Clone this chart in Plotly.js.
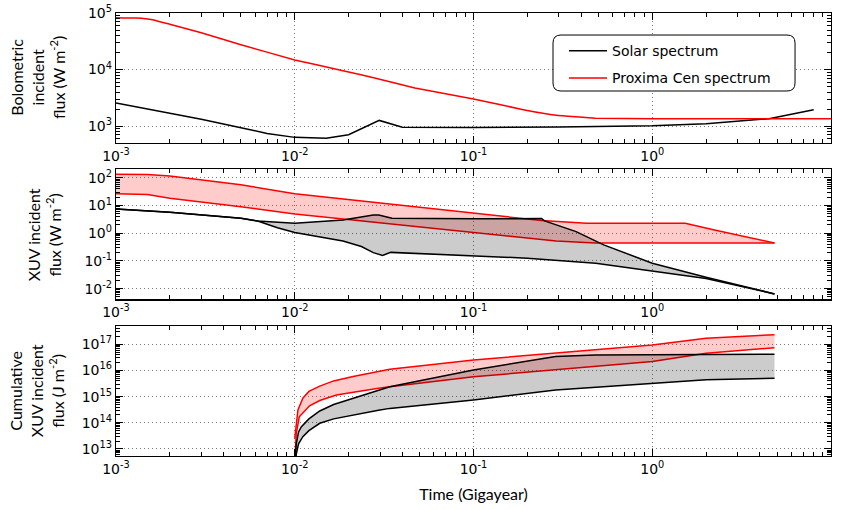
<!DOCTYPE html>
<html>
<head>
<meta charset="utf-8">
<script src="https://cdn.plot.ly/plotly-3.0.1.min.js"></script>
<style>html,body{margin:0;padding:0;background:#fff;}#chart{width:842px;height:510px;}</style>
</head>
<body>
<div id="chart"></div>
<script>
// ---------- Data (time in Gyr) ----------
// Panel 1: bolometric incident flux (W m^-2)
const bolSunT   = [0.001, 0.002, 0.003, 0.005, 0.007, 0.01, 0.015, 0.02, 0.0297, 0.04, 0.06, 0.1, 0.3, 1, 2, 4.5, 8];
const bolSunF   = [2570, 1700, 1320, 933, 741, 631, 610, 701, 1259, 955, 945, 946, 966, 1014, 1096, 1349, 1950];
const bolProxT  = [0.001, 0.0013, 0.0016, 0.002, 0.003, 0.005, 0.01, 0.0186, 0.028, 0.047, 0.1, 0.19, 0.29, 0.48, 1, 10];
const bolProxF  = [82600, 81300, 75900, 63100, 44700, 27500, 14800, 9550, 7080, 4730, 3020, 1950, 1550, 1380, 1350, 1350];

// Panel 2: XUV incident flux (W m^-2), upper and lower envelopes
const xuvProxUpT = [0.001, 0.0015, 0.002, 0.005, 0.01, 0.1, 0.24, 0.43, 1.53, 2.23, 4.83];
const xuvProxUpF = [135, 132, 117, 56.2, 26.9, 5.25, 2.88, 2.29, 2.29, 1.32, 0.447];
const xuvProxLoT = [0.001, 0.0015, 0.002, 0.005, 0.01, 0.03, 0.1, 0.29, 0.48, 4.83];
const xuvProxLoF = [26.9, 25.1, 18.4, 9.12, 5.01, 2.43, 1.06, 0.528, 0.447, 0.447];
const xuvSunUpT  = [0.001, 0.002, 0.005, 0.0062, 0.01, 0.0186, 0.0275, 0.0295, 0.035, 0.1, 0.24, 0.25, 0.375, 0.535, 1, 2, 4.83];
const xuvSunUpF  = [7.59, 5.75, 3.47, 2.75, 2.29, 3.02, 4.57, 4.57, 3.47, 3.31, 3.39, 2.79, 1.15, 0.380, 0.0832, 0.0257, 0.00646];
const xuvSunLoT  = [0.001, 0.002, 0.005, 0.0062, 0.008, 0.01, 0.0186, 0.0236, 0.0275, 0.031, 0.0344, 0.1, 0.2, 0.483, 1, 2, 4.83];
const xuvSunLoF  = [7.59, 5.75, 3.47, 2.75, 1.58, 1.07, 0.525, 0.331, 0.200, 0.158, 0.204, 0.151, 0.126, 0.0832, 0.0437, 0.0234, 0.00646];

// Panel 3: cumulative XUV incident flux (J m^-2)
const cumProxUpT = [0.01, 0.01042, 0.0111, 0.012, 0.0138, 0.0165, 0.0212, 0.0294, 0.034, 0.1, 0.288, 1, 2, 4.83];
const cumProxUpF = [2.57e13, 3.09e14, 8.71e14, 1.58e15, 2.51e15, 3.98e15, 5.89e15, 9.55e15, 1.12e16, 2.51e16, 4.57e16, 9.33e16, 1.70e17, 2.34e17];
const cumProxLoT = [0.01, 0.0102, 0.0106, 0.0121, 0.0138, 0.0171, 0.0294, 0.034, 0.1, 0.288, 1, 2, 4.83];
const cumProxLoF = [3.16e12, 3.98e13, 1.70e14, 4.47e14, 7.08e14, 1.15e15, 2.09e15, 2.40e15, 5.75e15, 1.05e16, 2.19e16, 4.57e16, 7.41e16];
const cumSunUpT  = [0.01, 0.0102, 0.0105, 0.0109, 0.012, 0.0138, 0.0165, 0.0212, 0.0294, 0.034, 0.1, 0.2, 0.288, 0.48, 1, 4.83];
const cumSunUpF  = [2.51e12, 1.58e13, 4.47e13, 7.08e13, 1.41e14, 2.82e14, 5.01e14, 8.71e14, 1.78e15, 2.40e15, 1.05e16, 2.24e16, 3.39e16, 3.89e16, 3.98e16, 4.17e16];
const cumSunLoT  = [0.01, 0.0102, 0.0105, 0.0111, 0.012, 0.0138, 0.0165, 0.0212, 0.0294, 0.034, 0.1, 0.288, 1, 2, 4.83];
const cumSunLoF  = [1e12, 6.31e12, 1.58e13, 2.95e13, 5.01e13, 9.55e13, 1.41e14, 2.00e14, 3.02e14, 3.55e14, 7.41e14, 1.78e15, 3.24e15, 4.37e15, 5.01e15];

// Tick labels
const xTickVals = [0.001, 0.01, 0.1, 1, 10];
const xTickText = ['10<sup>-3</sup>', '10<sup>-2</sup>', '10<sup>-1</sup>', '10<sup>0</sup>', '10<sup>1</sup>'];
const y1TickVals = [1e3, 1e4, 1e5];
const y1TickText = ['10<sup>3</sup>', '10<sup>4</sup>', '10<sup>5</sup>'];
const y2TickVals = [0.01, 0.1, 1, 10, 100];
const y2TickText = ['10<sup>-2</sup>', '10<sup>-1</sup>', '10<sup>0</sup>', '10<sup>1</sup>', '10<sup>2</sup>'];
const y3TickVals = [1e13, 1e14, 1e15, 1e16, 1e17];
const y3TickText = ['10<sup>13</sup>', '10<sup>14</sup>', '10<sup>15</sup>', '10<sup>16</sup>', '10<sup>17</sup>'];
const seriesNames = ['Solar spectrum', 'Proxima Cen spectrum'];

// ---------- Styling ----------
const RED = '#ff0000', BLACK = '#000000';
const PINK_FILL = 'rgba(255,0,0,0.2)', GREY_FILL = 'rgba(0,0,0,0.2)';
const LW = 1.5;

function minorVals(e0, e1) {
  const v = [];
  for (let e = e0; e < e1; e++) for (let m = 2; m <= 9; m++) v.push(m * Math.pow(10, e));
  return v;
}

function line(x, y, color, xa, ya, extra) {
  return Object.assign({
    type: 'scatter', mode: 'lines', x: x, y: y,
    line: {color: color, width: LW},
    xaxis: xa, yaxis: ya, showlegend: false, hoverinfo: 'skip'
  }, extra || {});
}

const traces = [
  // panel 1
  line(bolSunT, bolSunF, BLACK, 'x', 'y', {name: seriesNames[0], showlegend: true, legendgroup: 'a'}),
  line(bolProxT, bolProxF, RED, 'x', 'y', {name: seriesNames[1], showlegend: true, legendgroup: 'b',
       line: {color: RED, width: LW, shape: 'spline', smoothing: 0.3}}),
  // panel 2
  line(xuvProxLoT, xuvProxLoF, RED, 'x2', 'y2'),
  line(xuvProxUpT, xuvProxUpF, RED, 'x2', 'y2', {fill: 'tonexty', fillcolor: PINK_FILL}),
  line(xuvSunLoT, xuvSunLoF, BLACK, 'x2', 'y2'),
  line(xuvSunUpT, xuvSunUpF, BLACK, 'x2', 'y2', {fill: 'tonexty', fillcolor: GREY_FILL}),
  // panel 3
  line(cumProxLoT, cumProxLoF, RED, 'x3', 'y3'),
  line(cumProxUpT, cumProxUpF, RED, 'x3', 'y3', {fill: 'tonexty', fillcolor: PINK_FILL}),
  line(cumSunLoT, cumSunLoF, BLACK, 'x3', 'y3'),
  line(cumSunUpT, cumSunUpF, BLACK, 'x3', 'y3', {fill: 'tonexty', fillcolor: GREY_FILL})
];

const tickFont = {family: 'DejaVu Sans', size: 14, color: '#000'};
const GRID = '#7a7a7a', GRIDDASH = '1px,3px';

function minorSpec(vals) {
  return {tickmode: 'array', tickvals: vals, ticks: 'inside', ticklen: 4, tickcolor: '#000', tickwidth: 1, showgrid: false};
}
function xAxis(anchor) {
  return {
    type: 'log', range: [-3, 1], anchor: anchor,
    tickmode: 'array', tickvals: xTickVals, ticktext: xTickText,
    ticks: 'inside', ticklen: 7, tickcolor: '#000', tickwidth: 1,
    showline: true, linecolor: '#000', linewidth: 1.2, mirror: 'allticks',
    showgrid: true, gridcolor: GRID, griddash: GRIDDASH, gridwidth: 1,
    minor: minorSpec(minorVals(-3, 1)), tickfont: tickFont, zeroline: false
  };
}
function yAxis(anchor, range, domain, vals, text, e0, e1) {
  return {
    type: 'log', range: range, domain: domain, anchor: anchor,
    tickmode: 'array', tickvals: vals, ticktext: text,
    ticks: 'inside', ticklen: 7, tickcolor: '#000', tickwidth: 1,
    showline: true, linecolor: '#000', linewidth: 1.2, mirror: 'allticks',
    showgrid: true, gridcolor: GRID, griddash: GRIDDASH, gridwidth: 1,
    minor: minorSpec(minorVals(e0, e1)), tickfont: tickFont, zeroline: false
  };
}

const titleFont = {family: 'Lato', size: 16, color: '#000'};

// rounded legend frame (paper coordinates)
const LX0 = 0.6112, LX1 = 0.9497, LY0 = 0.8239, LY1 = 0.9503, RX = 0.0112, RY = 0.0181;
const legendFrame =
  `M ${LX0 + RX},${LY1} L ${LX1 - RX},${LY1} Q ${LX1},${LY1} ${LX1},${LY1 - RY} ` +
  `L ${LX1},${LY0 + RY} Q ${LX1},${LY0} ${LX1 - RX},${LY0} ` +
  `L ${LX0 + RX},${LY0} Q ${LX0},${LY0} ${LX0},${LY0 + RY} ` +
  `L ${LX0},${LY1 - RY} Q ${LX0},${LY1} ${LX0 + RX},${LY1} Z`;

const layout = {
  width: 842, height: 510,
  margin: {l: 116, r: 11, t: 13, b: 54},
  paper_bgcolor: '#fff', plot_bgcolor: '#fff',
  showlegend: true,
  xaxis: xAxis('y'),
  xaxis2: xAxis('y2'),
  xaxis3: Object.assign(xAxis('y3'), {title: {text: 'Time (Gigayear)', font: titleFont, standoff: 12}}),
  yaxis: yAxis('x', [2.70, 5.0], [0.7065, 1.0], y1TickVals, y1TickText, 2, 5),
  yaxis2: yAxis('x2', [-2.385, 2.31], [0.3537, 0.6472], y2TickVals, y2TickText, -3, 3),
  yaxis3: yAxis('x3', [12.73, 17.71], [0.0, 0.2941], y3TickVals, y3TickText, 12, 18),
  shapes: [
    {type: 'path', xref: 'paper', yref: 'paper', path: legendFrame, layer: 'above',
     line: {color: '#000', width: 1}, fillcolor: '#fff'}
  ],
  legend: {
    x: 0.6266, y: 0.95, xanchor: 'left', yanchor: 'top',
    borderwidth: 0, bgcolor: 'rgba(0,0,0,0)',
    font: {family: 'DejaVu Sans', size: 14, color: '#000'},
    traceorder: 'grouped', tracegroupgap: 6, itemwidth: 38
  },
  annotations: [
    {text: 'Bolometric<br>incident<br>flux (W m<sup>-2</sup>)', xref: 'paper', yref: 'paper', x: -0.109, y: 0.8535,
     xanchor: 'center', yanchor: 'middle', textangle: -90, showarrow: false, font: titleFont},
    {text: 'XUV incident<br>flux (W m<sup>-2</sup>)', xref: 'paper', yref: 'paper', x: -0.1007, y: 0.5005,
     xanchor: 'center', yanchor: 'middle', textangle: -90, showarrow: false, font: titleFont},
    {text: 'Cumulative<br>XUV incident<br>flux (J m<sup>-2</sup>)', xref: 'paper', yref: 'paper', x: -0.11, y: 0.1470,
     xanchor: 'center', yanchor: 'middle', textangle: -90, showarrow: false, font: titleFont}
  ]
};

Plotly.newPlot('chart', traces, layout, {staticPlot: true, displayModeBar: false});
</script>
</body>
</html>
